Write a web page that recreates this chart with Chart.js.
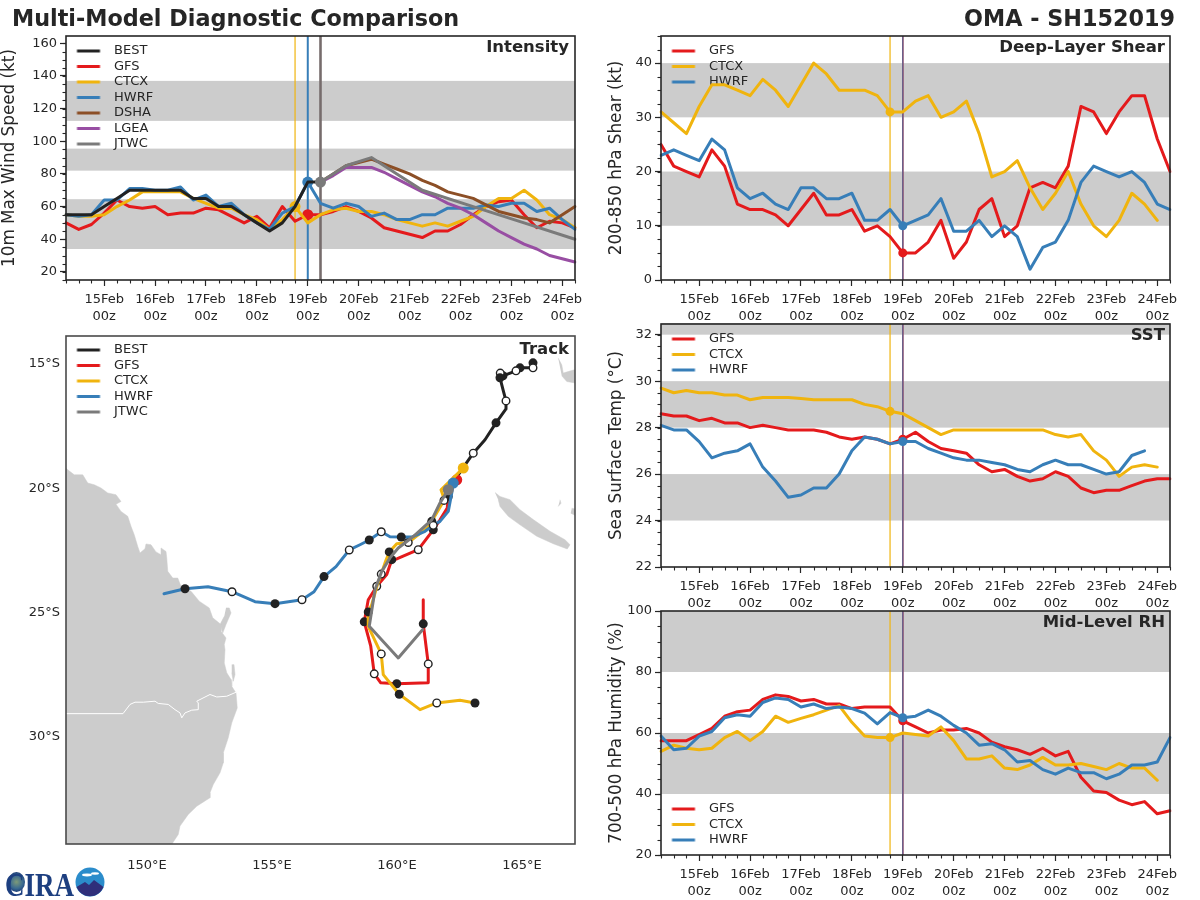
<!DOCTYPE html>
<html><head><meta charset="utf-8">
<script src="https://cdn.jsdelivr.net/npm/chart.js@4"></script>
<style>
html,body{margin:0;padding:0;background:#fff;width:1200px;height:900px;overflow:hidden;font-family:"DejaVu Sans",sans-serif;color:#262626}
canvas{position:absolute}
.t{position:absolute;white-space:nowrap;font-weight:bold;line-height:1;z-index:5}
</style></head><body>
<div class="t" id="mainTitle" style="left:12px;top:7px;font-size:22.3px">Multi-Model Diagnostic Comparison</div>
<div class="t" id="stormTitle" style="right:25px;top:7px;font-size:22.3px">OMA - SH152019</div>
<div class="t" style="right:631px;top:39px;font-size:16.5px">Intensity</div>
<div class="t" style="right:631px;top:341px;font-size:16.5px">Track</div>
<div class="t" style="right:35px;top:39px;font-size:16.5px">Deep-Layer Shear</div>
<div class="t" style="right:35px;top:327px;font-size:16.5px">SST</div>
<div class="t" style="right:35px;top:614px;font-size:16.5px">Mid-Level RH</div>
<div style="position:absolute;left:8px;top:872px;width:17px;height:20px;border-radius:50%;background:radial-gradient(circle at 50% 50%,#7d9a78 0,#3a6a90 50%,#14306f 85%)"></div>
<div class="t" style="left:5px;top:867px;font:bold 33px 'Liberation Serif',serif;color:#1d3f80;transform:scaleX(.82);transform-origin:left">CIRA</div>
<svg style="position:absolute;left:75px;top:867px;z-index:6" width="30" height="30" viewBox="0 0 30 30"><circle cx="15" cy="15" r="14.5" fill="#2b8ccb"/><path d="M1.5 20 L10 15 L14 18 L19 13 L28.5 20 A14.5 14.5 0 0 1 1.5 20Z" fill="#2f2f7a"/><ellipse cx="12" cy="8" rx="5" ry="1.4" fill="#fff"/><ellipse cx="20" cy="6.5" rx="4" ry="1.2" fill="#fff"/></svg>
<canvas id="cIntensity"></canvas><canvas id="cTrack"></canvas><canvas id="cShear"></canvas><canvas id="cSst"></canvas><canvas id="cRh"></canvas>
<script>
// ---------- colours ----------
const COL={BEST:'#222222',GFS:'#e41a1c',CTCX:'#f0b40e',HWRF:'#377eb8',DSHA:'#8c4f26',LGEA:'#984ea3',JTWC:'#7a7a7a'};
const BAND='#cccccc',INK='#262626';
// ---------- time axis: 14Feb 06z ... 24Feb 06z, 6-hourly ----------
const timeLabels=[];
for(let d=14;d<=24;d++){for(const h of['00z','06z','12z','18z']){if((d===14&&h==='00z')||(d===24&&h!=='00z'&&h!=='06z'))continue;timeLabels.push(d+'Feb '+h);}}
// ---------- intensity (kt) ----------
const intBEST=[55,55,55,60,65,70,70,70,70,70,65,65,60,60,55,50,45,50,60,75,75,null,null,null,null,null,null,null,null,null,null,null,null,null,null,null,null,null,null,null,null];
const intGFS=[50,46,49,56,64,60,59,60,55,56,56,59,58,54,50,54,47,60,51,55,55,57,60,57,53,47,45,43,41,45,45,49,55,60,63,64,55,47,51,50,47];
const intCTCX=[55,54,54,55,60,64,69,69,69,69,65,62,59,59,55,52,46,52,60,50,55,58,59,57,57,55,52,50,48,50,48,51,54,60,65,65,70,64,55,52,47];
const intHWRF=[55,54,55,64,64,71,71,70,70,72,64,67,60,62,55,50,46,56,60,75,62,59,62,60,54,56,52,52,55,55,59,59,59,61,60,62,62,57,59,52,46];
const intDSHA=[null,null,null,null,null,null,null,null,null,null,null,null,null,null,null,null,null,null,null,null,75,80,85,87,89,86,83,80,76,73,69,67,65,61,57,55,53,52,50,55,60];
const intLGEA=[null,null,null,null,null,null,null,null,null,null,null,null,null,null,null,null,null,null,null,null,75,79,84,84,84,81,77,73,69,66,62,59,55,50,45,41,37,34,30,28,26];
const intJTWC=[null,null,null,null,null,null,null,null,null,null,null,null,null,null,null,null,null,null,null,null,75,null,85,null,90,null,80,null,70,null,null,null,60,null,null,null,50,null,null,null,40];
const intTicks=[20,40,60,80,100,120,140,160];
const intBands=[[34,64.5],[82,95.5],[112.5,137]];
// ---------- shear (kt) ----------
const shrGFS=[25,21,20,19,24,21,14,13,13,12,10,13,16,12,12,13,9,10,8,5,5,7,11,4,7,13,15,8,10,17,18,17,21,32,31,27,31,34,34,26,20];
const shrCTCX=[31,29,27,32,36,36,35,34,37,35,32,36,40,38,35,35,35,34,31,31,33,34,30,31,33,27,19,20,22,17,13,16,20,14,10,8,11,16,14,11,null];
const shrHWRF=[23,24,23,22,26,24,17,15,16,14,13,17,17,15,15,16,11,11,13,10,11,12,15,9,9,11,8,10,8,2,6,7,11,18,21,20,19,20,18,14,13];
const shrTicks=[0,10,20,30,40];
const shrBands=[[10,20],[30,40]];
// ---------- SST (C) ----------
const sstGFS=[28.6,28.5,28.5,28.3,28.4,28.2,28.2,28.0,28.1,28.0,27.9,27.9,27.9,27.8,27.6,27.5,27.6,27.5,27.3,27.5,27.8,27.4,27.1,27.0,26.9,26.4,26.1,26.2,25.9,25.7,25.8,26.1,25.9,25.4,25.2,25.3,25.3,25.5,25.7,25.8,25.8];
const sstCTCX=[29.7,29.5,29.6,29.5,29.5,29.4,29.4,29.2,29.3,29.3,29.3,29.25,29.2,29.2,29.2,29.2,29.0,28.9,28.7,28.6,28.3,28.0,27.7,27.9,27.9,27.9,27.9,27.9,27.9,27.9,27.9,27.7,27.6,27.7,27.0,26.6,25.9,26.3,26.4,26.3,null];
const sstHWRF=[28.1,27.9,27.9,27.4,26.7,26.9,27.0,27.3,26.3,25.7,25.0,25.1,25.4,25.4,26.0,27.0,27.6,27.5,27.3,27.4,27.4,27.1,26.9,26.7,26.6,26.6,26.5,26.4,26.2,26.1,26.4,26.6,26.4,26.4,26.2,26.0,26.1,26.8,27.0,null,null];
const sstTicks=[22,24,26,28,30,32];
const sstBands=[[24,26],[28,30],[32,32.5]];
// ---------- RH (%) ----------
const rhGFS=[57.5,57.5,57.5,59.5,61.5,65.5,67,67.5,71,72.5,72,70.5,71,69.5,69.5,68,68.5,68.5,68.5,64,62,60,61,61,61.5,60,57,55.5,54.5,53,55,52.5,54,45.5,41,40.5,38,36.5,37.5,33.5,34.5];
const rhCTCX=[54,56,55,54.5,55,58.5,60.5,57.5,60.5,65.5,63.5,64.8,66,67.5,69,63.5,59,58.5,58.5,60,59.5,59,62,57.5,51.5,51.5,52.5,48.5,48,49.5,52,49.5,49.5,50,49,48,50,48.5,48.5,44.5,null];
const rhHWRF=[59,54.5,55,59,60.5,65,66,65.5,70,71.5,71,68.5,69.5,68,68.5,68,66.5,63,66.7,65,65.5,67.5,65.5,62.5,60,56,56.5,54.5,50.5,51,48,46.5,48.5,47,47,45,46.5,49.5,49.5,50.5,58.5];
const rhTicks=[20,40,60,80,100];
const rhBands=[[40,60],[80,100]];
// ---------- track: lon, lat, marks (0 none, 1 filled, 2 open, 3 analysis) ----------
const bestLon=[165.44,165.44,164.92,164.76,164.24,164.13,164.12,164.24,164.36,164.36,163.96,163.52,163.05,162.64,162.24];
const bestLat=[-14.96,-15.16,-15.16,-15.28,-15.48,-15.37,-15.56,-16.04,-16.49,-16.81,-17.37,-18.05,-18.59,-19.18,-19.78];
const bestMark=[1,2,1,2,1,2,1,0,2,0,1,0,2,0,0];
const gfsLon=[162.39,162.05,162.01,161.72,161.45,160.85,159.99,159.79,159.59,159.19,158.85,158.69,158.95,159.09,159.35,159.99,161.25,161.25,161.05,161.05];
const gfsLat=[-19.66,-20.33,-20.80,-21.27,-21.67,-22.47,-22.84,-22.87,-23.47,-23.94,-24.48,-25.37,-26.35,-27.46,-27.82,-27.86,-27.82,-27.06,-25.45,-24.48];
const gfsMark=[3,1,0,0,1,2,0,1,0,2,0,1,0,2,0,1,0,2,1,0];
const ctcxLon=[162.65,161.76,161.83,161.88,161.39,161.25,160.45,159.99,159.69,159.52,159.37,159.19,158.99,158.85,158.85,159.37,159.45,160.09,160.92,161.59,162.52,163.12];
const ctcxLat=[-19.19,-20.06,-20.26,-20.49,-21.33,-21.56,-22.18,-22.23,-22.56,-23.00,-23.45,-23.96,-24.68,-24.97,-25.55,-26.66,-27.49,-28.28,-28.90,-28.63,-28.52,-28.63];
const ctcxMark=[3,0,0,2,1,0,2,0,1,0,2,0,0,1,0,2,0,1,0,2,0,1];
const hwrfLon=[162.25,162.19,162.05,161.72,161.45,161.12,160.59,160.17,159.72,159.37,158.89,158.52,158.09,157.56,157.08,156.68,156.20,155.12,154.32,153.40,152.44,151.52,150.68];
const hwrfLat=[-19.79,-20.19,-20.93,-21.33,-21.49,-21.73,-21.96,-21.96,-21.95,-21.75,-22.08,-22.27,-22.48,-23.15,-23.55,-24.16,-24.48,-24.64,-24.56,-24.16,-23.96,-24.04,-24.24];
const hwrfMark=[3,0,0,0,2,0,0,1,0,2,1,0,2,0,1,0,2,1,0,2,0,1,0];
const jtwcLon=[162.05,161.72,161.39,160.65,160.05,159.72,159.39,159.12,158.89,160.05,161.03];
const jtwcLat=[-20.06,-20.59,-21.27,-21.94,-22.40,-22.80,-23.34,-24.08,-25.55,-26.82,-25.68];
const jtwcMark=[3,0,0,0,0,0,0,0,0,0,0];
// ---------- coast outlines, lon/lat ----------
const ausLon=[146.6,146.76,146.83,147.09,147.43,147.63,147.89,148.16,148.43,148.76,148.96,148.76,148.96,149.23,149.36,149.49,149.63,149.72,149.92,149.96,150.16,150.36,150.56,150.56,150.76,150.79,150.83,151.03,151.23,151.36,151.76,152.09,152.49,152.63,152.96,152.96,153.16,153.09,153.12,153.09,153.19,153.36,153.39,153.56,153.61,153.39,153.25,153.05,153.05,152.92,152.65,152.52,152.52,151.99,151.65,151.32,151.25,151.05,150.95,146.6];
const ausLat=[-19.2,-19.2,-19.26,-19.46,-19.46,-19.79,-19.86,-19.99,-20.19,-20.26,-20.53,-20.64,-20.93,-21.13,-21.53,-21.87,-22.34,-22.60,-22.43,-22.24,-22.27,-22.56,-22.67,-22.40,-22.54,-22.80,-23.34,-23.61,-23.61,-23.94,-24.14,-24.54,-24.81,-25.21,-25.48,-25.75,-26.02,-26.28,-26.49,-27.02,-27.42,-27.69,-27.96,-28.23,-28.83,-29.43,-30.03,-30.64,-31.04,-31.44,-31.91,-32.24,-32.44,-32.78,-33.11,-33.58,-33.92,-34.22,-34.4,-34.4];
const fraserLon=[153.16,153.29,153.36,153.16,153.03,152.92,153.09];
const fraserLat=[-24.81,-24.81,-25.01,-25.48,-25.82,-25.48,-25.15];
const moretonLon=[153.39,153.48,153.52,153.45,153.39];
const moretonLat=[-27.09,-27.09,-27.49,-27.76,-27.42];
const ncalLon=[163.92,164.12,164.52,164.92,165.45,166.12,166.72,166.92,166.81,166.25,165.59,164.92,164.45,164.12,164.05];
const ncalLat=[-20.17,-20.33,-20.46,-20.86,-21.26,-21.73,-22.07,-22.27,-22.44,-22.23,-21.93,-21.47,-21.13,-20.73,-20.46];
const vanLon=[166.45,166.59,166.65,166.85,167.09,167.2,167.2,166.79,166.59];
const vanLat=[-14.77,-15.04,-15.37,-15.31,-15.24,-15.24,-15.78,-15.71,-15.48];
const lifouLon=[166.52,166.56,166.45];
const lifouLat=[-20.46,-20.60,-20.73];
const mareLon=[166.99,167.2,167.2,166.95];
const mareLat=[-20.80,-20.86,-21.13,-21.0];
const borderLon=[146.6,149.04,149.32,149.52,149.85,150.32,150.45,150.85,151.12,151.32,151.39,151.52,151.79,152.05,152.05,151.99,152.52,152.79,153.19,153.56];
const borderLat=[-29.06,-29.06,-28.69,-28.60,-28.60,-28.56,-28.65,-28.69,-28.90,-29.03,-29.23,-29.03,-28.92,-28.90,-28.63,-28.56,-28.29,-28.39,-28.36,-28.20];
const lonTicks=[150,155,160,165];
const latTicks=[-30,-25,-20,-15];

const FONT={family:'"DejaVu Sans",sans-serif',size:13};
Chart.defaults.font.family=FONT.family;
Chart.defaults.animation=false;

function swatch(color){ // legend handle: 8px gap, 23px line, trailing gap up to the label
  const c=document.createElement('canvas');c.width=39;c.height=5;
  const g=c.getContext('2d');g.fillStyle=color;g.fillRect(8.5,1,23,3);return c;
}
function legendOpts(){
  return {display:true,position:'chartArea',align:'start',
    labels:{usePointStyle:true,pointStyleWidth:39,boxHeight:5,padding:2.5,color:INK,font:{size:13,family:FONT.family},
      generateLabels:ch=>ch.data.datasets.map((d,i)=>d.legendName?{text:d.legendName,pointStyle:swatch(d.borderColor),fillStyle:d.borderColor,strokeStyle:d.borderColor,lineWidth:0,hidden:false,datasetIndex:i,fontColor:INK}:null).filter(Boolean)}};
}
function panelPlugin(cfg){
  return {id:'panel_'+cfg.id,
    afterLayout(ch){ if(ch.legend){ch.legend.top=ch.chartArea.top+cfg.legendTop;ch.legend.bottom=ch.chartArea.bottom+cfg.legendTop;} },
    beforeDraw(ch){
      const a=ch.chartArea,y=ch.scales.y,g=ch.ctx;
      g.save();g.fillStyle=BAND;
      (cfg.bands||[]).forEach(b=>{const t=y.getPixelForValue(b[1]),u=y.getPixelForValue(b[0]);g.fillRect(a.left,t,a.right-a.left,u-t);});
      g.restore();
    },
    beforeDatasetsDraw(ch){
      const a=ch.chartArea,x=ch.scales.x,g=ch.ctx;
      (cfg.vlines||[]).forEach(v=>{const p=x.getPixelForValue(v[0]);g.save();g.strokeStyle=v[1];g.lineWidth=v[2];g.globalAlpha=v[3]||1;g.beginPath();g.moveTo(p,a.top);g.lineTo(p,a.bottom);g.stroke();g.restore();});
    },
    afterDatasetsDraw(ch){
      const a=ch.chartArea,g=ch.ctx;
      g.save();g.strokeStyle=cfg.frame||INK;g.lineWidth=1.6;g.strokeRect(a.left,a.top,a.right-a.left,a.bottom-a.top);
      g.strokeStyle=INK;g.lineWidth=1.1;
      if(cfg.minorStep){const y=ch.scales.y;
        for(let v=Math.ceil(y.min/cfg.minorStep)*cfg.minorStep;v<=y.max;v+=cfg.minorStep){const p=Math.round(y.getPixelForValue(v))+.5;g.beginPath();g.moveTo(a.left-3.5,p);g.lineTo(a.left,p);g.stroke();}
        const x=ch.scales.x;
        timeLabels.forEach((l,i)=>{if(!l.endsWith('00z')){const p=Math.round(x.getPixelForValue(i))+.5;g.beginPath();g.moveTo(p,a.bottom);g.lineTo(p,a.bottom+3.5);g.stroke();}});
      }
      g.restore();
    }};
}
function place(id,left,top,w,h){const c=document.getElementById(id);c.style.left=left+'px';c.style.top=top+'px';c.width=w;c.height=h;c.style.width=w+'px';c.style.height=h+'px';return c;}

function series(name,data,init,order,r){
  return {label:name,legendName:name,data,borderColor:COL[name],backgroundColor:COL[name],borderWidth:3,tension:0,spanGaps:true,order,
    borderJoinStyle:'round',borderCapStyle:'round',
    pointRadius:c=>c.dataIndex===init?r:0,pointHoverRadius:0,pointBackgroundColor:COL[name],pointBorderWidth:0};
}
function timePanel(cfg){
  const left=cfg.canvasLeft,padT=12,axisH=44,padR=10;
  const c=place(cfg.id,left,cfg.top-padT,cfg.right-left+padR,cfg.bottom-cfg.top+padT+axisH);
  new Chart(c,{type:'line',plugins:[panelPlugin(cfg)],
    data:{labels:timeLabels,datasets:cfg.datasets},
    options:{responsive:false,devicePixelRatio:1,animation:false,events:[],
      layout:{padding:{top:padT,right:padR,left:0,bottom:0}},
      plugins:{legend:legendOpts(),tooltip:{enabled:false},title:{display:false}},
      scales:{
        x:{type:'category',offset:false,border:{display:false},
          grid:{drawOnChartArea:false,tickLength:6,tickWidth:1.2,tickColor:t=>timeLabels[t.index]&&timeLabels[t.index].endsWith('00z')?INK:'rgba(0,0,0,0)'},
          afterFit:s=>{s.height=axisH;},
          ticks:{autoSkip:false,maxRotation:0,minRotation:0,padding:5,color:INK,font:{size:13,lineHeight:1.3},
            callback:(v,i)=>timeLabels[i].endsWith('00z')?timeLabels[i].split(' '):''}},
        y:{type:'linear',min:cfg.min,max:cfg.max,border:{display:false},
          grid:{drawOnChartArea:false,tickLength:6,tickWidth:1.2,tickColor:INK},
          afterBuildTicks:s=>{s.ticks=cfg.ticks.map(v=>({value:v}));},
          afterFit:s=>{s.width=cfg.left-left;},
          title:{display:true,text:cfg.yTitle,color:INK,font:{size:16.8},padding:0},
          ticks:{padding:3,color:INK,font:{size:13}}}
      }}});
}
// ---------- panels ----------
const LI=18,GI=19,JI=20;
timePanel({id:'cIntensity',canvasLeft:0,left:66,right:575,top:36,bottom:280,min:15,max:164.5,ticks:intTicks,bands:intBands,minorStep:5,legendTop:6,
  yTitle:'10m Max Wind Speed (kt)',vlines:[[LI,COL.CTCX,1.2],[GI,COL.HWRF,2],[JI,'#766c6c',2.6]],
  datasets:[series('BEST',intBEST,-1,1,0),series('GFS',intGFS,GI,7,5.5),series('CTCX',intCTCX,LI,6,5.5),series('HWRF',intHWRF,GI,5,5.5),series('DSHA',intDSHA,-1,4,0),series('LGEA',intLGEA,-1,3,0),series('JTWC',intJTWC,JI,0,5.5)]});
const RV=[[LI,COL.CTCX,1.2],[GI,COL.GFS,1.6],[GI,COL.HWRF,1.6,.7]];
timePanel({id:'cShear',canvasLeft:607,left:661,right:1170,top:36,bottom:280,min:0,max:45,ticks:shrTicks,bands:shrBands,minorStep:2.5,legendTop:6,
  yTitle:'200-850 hPa Shear (kt)',vlines:RV,datasets:[series('GFS',shrGFS,GI,3,4.5),series('CTCX',shrCTCX,LI,2,4.5),series('HWRF',shrHWRF,GI,1,4.5)]});
timePanel({id:'cSst',canvasLeft:607,left:661,right:1170,top:324,bottom:567,min:22,max:32.46,ticks:sstTicks,bands:sstBands,minorStep:.5,legendTop:6,
  yTitle:'Sea Surface Temp (°C)',vlines:RV,datasets:[series('GFS',sstGFS,GI,3,4.5),series('CTCX',sstCTCX,LI,2,4.5),series('HWRF',sstHWRF,GI,1,4.5)]});
timePanel({id:'cRh',canvasLeft:607,left:661,right:1170,top:611,bottom:855,min:20,max:100,ticks:rhTicks,bands:rhBands,minorStep:5,legendTop:189,
  yTitle:'700-500 hPa Humidity (%)',vlines:RV,datasets:[series('GFS',rhGFS,GI,3,4.5),series('CTCX',rhCTCX,LI,2,4.5),series('HWRF',rhHWRF,GI,1,4.5)]});

// ---------- track map ----------
function xy(lon,lat){return lon.map((v,i)=>({x:v,y:lat[i]}));}
function land(lon,lat,order){return {data:xy(lon,lat),showLine:true,fill:'shape',backgroundColor:BAND,borderColor:BAND,borderWidth:.5,pointRadius:0,tension:0,order};}
function track(name,lon,lat,mark,order){
  const k=c=>mark[c.dataIndex];
  return {label:name,legendName:name,data:xy(lon,lat),showLine:true,borderColor:COL[name],borderWidth:3,tension:0,order,fill:false,
    borderJoinStyle:'round',borderCapStyle:'round',
    pointRadius:c=>[0,4.5,3.8,5.5][k(c)],pointHoverRadius:0,
    pointBackgroundColor:c=>[COL[name],'#222222','#ffffff',COL[name]][k(c)],
    pointBorderColor:c=>['#222222','#222222','#222222',COL[name]][k(c)],
    pointBorderWidth:c=>k(c)===2?1.4:0};
}
(function(){
  const left=0,cfg={id:'cTrack',frame:'#4a4a4a',legendTop:5};
  const top=336,bottom=844,right=575,padT=14,axisH=44,padR=10;
  const c=place('cTrack',left,top-padT,right-left+padR,bottom-top+padT+axisH);
  new Chart(c,{type:'scatter',plugins:[panelPlugin(cfg)],
    data:{datasets:[
      track('BEST',bestLon,bestLat,bestMark,6),
      track('GFS',gfsLon,gfsLat,gfsMark,5),
      track('CTCX',ctcxLon,ctcxLat,ctcxMark,4),
      track('HWRF',hwrfLon,hwrfLat,hwrfMark,3),
      track('JTWC',jtwcLon,jtwcLat,jtwcMark,2),
      land(ausLon,ausLat,20),land(fraserLon,fraserLat,20),land(moretonLon,moretonLat,20),land(ncalLon,ncalLat,20),land(vanLon,vanLat,20),land(lifouLon,lifouLat,20),land(mareLon,mareLat,20),
      {data:xy(borderLon,borderLat),showLine:true,borderColor:'#ffffff',borderWidth:1,pointRadius:0,tension:0,order:19}
    ]},
    options:{responsive:false,devicePixelRatio:1,animation:false,events:[],
      layout:{padding:{top:padT,right:padR,left:0,bottom:0}},
      plugins:{legend:legendOpts(),tooltip:{enabled:false}},
      scales:{
        x:{type:'linear',min:146.76,max:167.12,border:{display:false},grid:{drawOnChartArea:false,drawTicks:false},
          afterBuildTicks:s=>{s.ticks=lonTicks.map(v=>({value:v}));},
          afterFit:s=>{s.height=axisH;},
          ticks:{padding:14,color:INK,font:{size:13},maxRotation:0,callback:v=>v+'°E'}},
        y:{type:'linear',min:-34.3,max:-13.88,border:{display:false},grid:{drawOnChartArea:false,drawTicks:false},
          afterBuildTicks:s=>{s.ticks=latTicks.map(v=>({value:v}));},
          afterFit:s=>{s.width=66;},
          ticks:{padding:6,color:INK,font:{size:13},callback:v=>Math.abs(v)+'°S'}}
      }}});
})();
</script></body></html>
